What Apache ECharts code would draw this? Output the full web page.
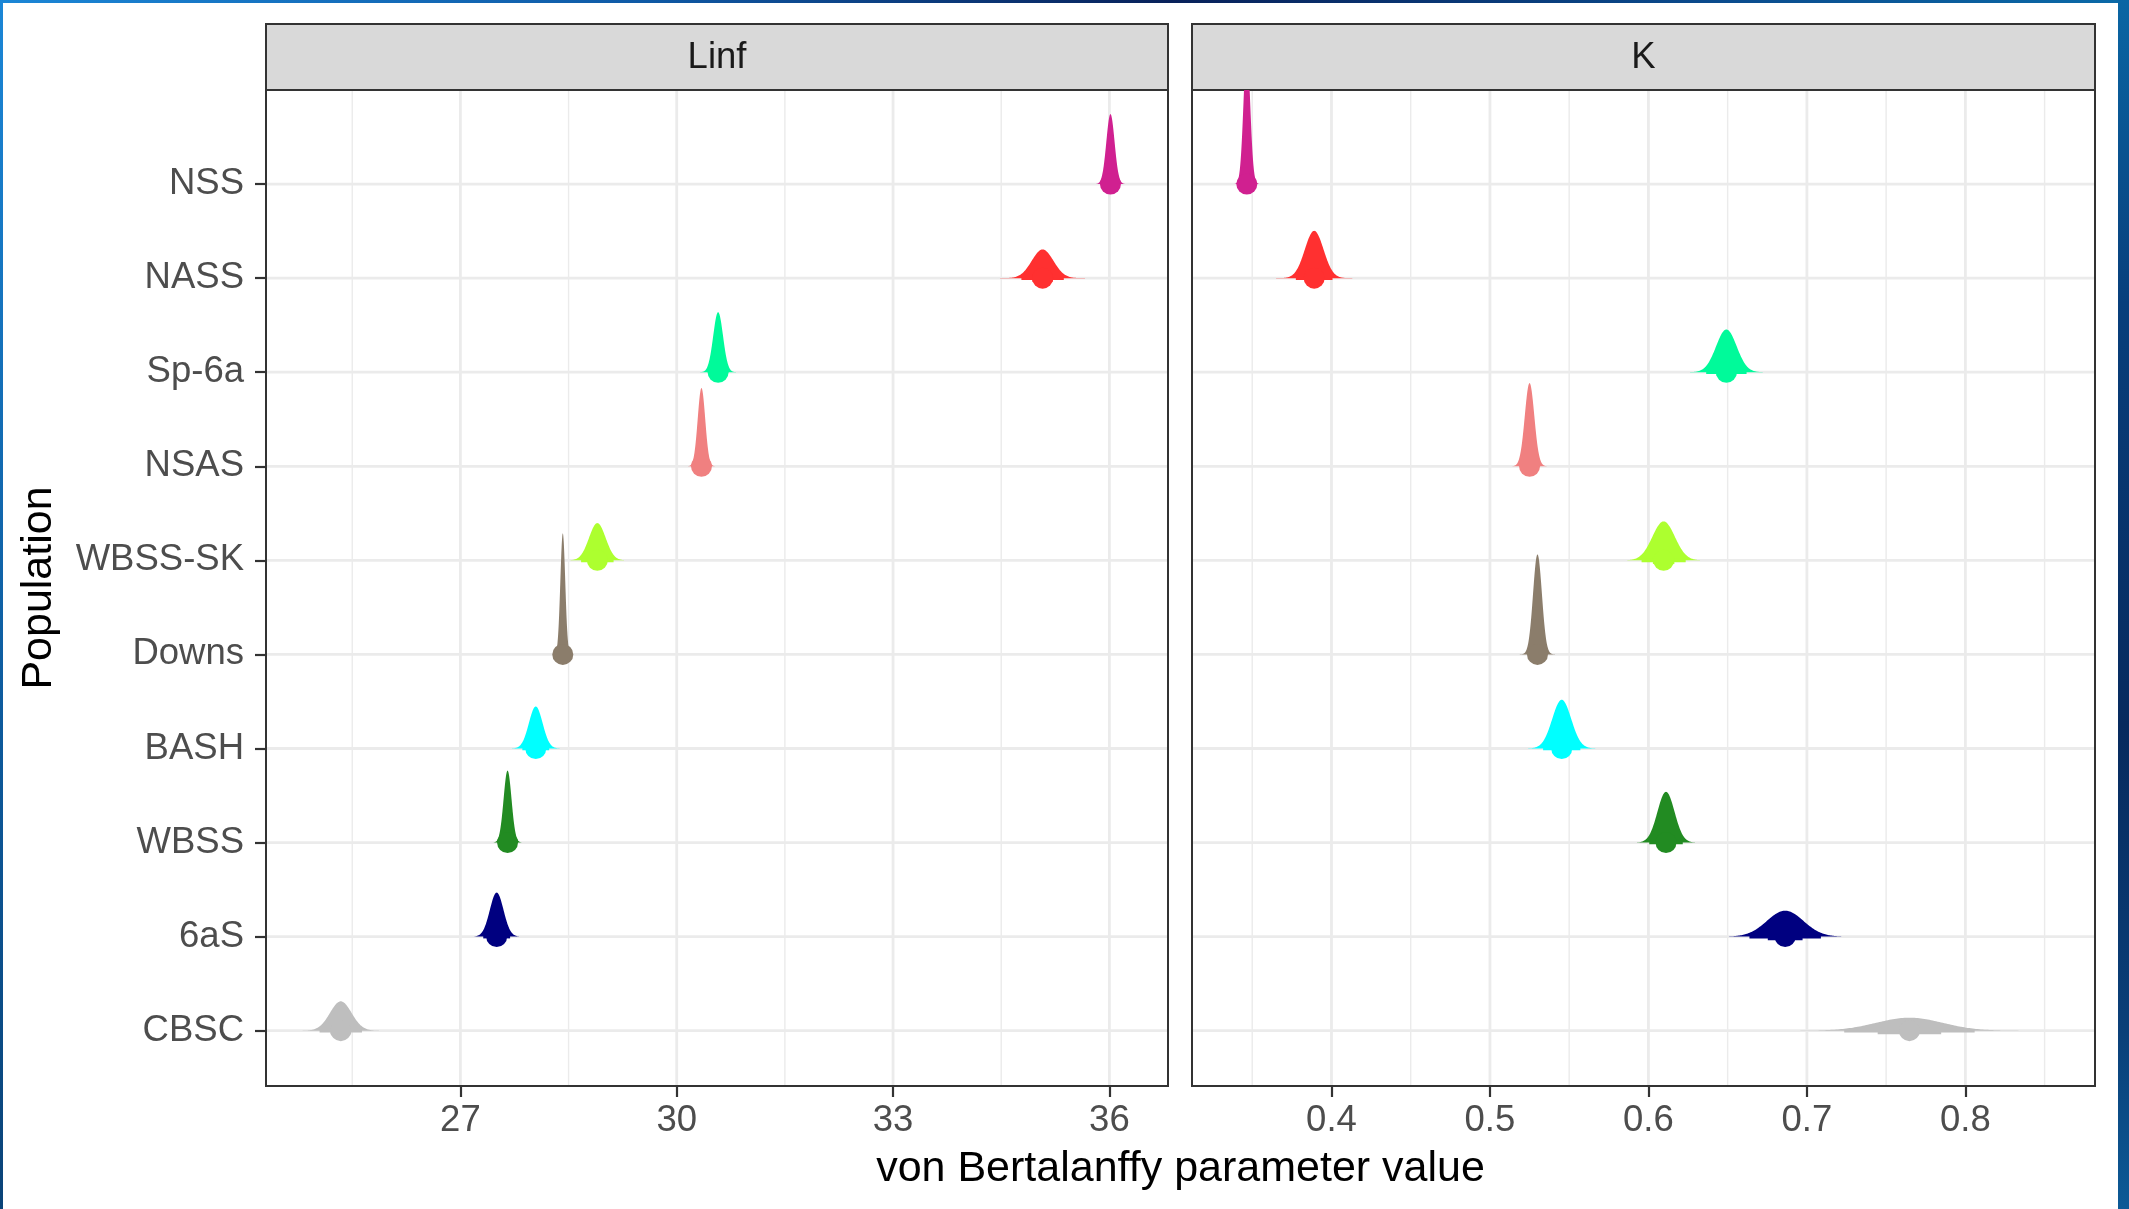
<!DOCTYPE html>
<html>
<head>
<meta charset="utf-8">
<title>von Bertalanffy parameters by population</title>
<script src="https://cdn.jsdelivr.net/npm/echarts@6/dist/echarts.min.js"></script>
<style>
  html, body { margin: 0; padding: 0; width: 2129px; height: 1209px; overflow: hidden; background: #0b3f7a; }
  #edgeTop { position: absolute; left: 0; top: 0; width: 2129px; height: 3px;
    background: linear-gradient(to right, #1b86d6 0%, #0f5aa6 30%, #08215a 55%, #0a4a8c 80%, #0a6aa8 100%); }
  #edgeLeft { position: absolute; left: 0; top: 0; width: 3px; height: 1209px;
    background: linear-gradient(to bottom, #1b86d6 0%, #0d5a9c 60%, #0a4378 100%); }
  #edgeRight { position: absolute; left: 2118px; top: 0; width: 11px; height: 1209px;
    background: linear-gradient(to bottom, #0a66a4 0%, #083f7c 25%, #072a5e 60%, #0a3f78 85%, #0c5a96 100%); }
  #paper { position: absolute; left: 3px; top: 3px; width: 2115px; height: 1206px; background: #ffffff; }
  #chart { position: absolute; left: 0; top: 0; width: 2129px; height: 1209px; }
</style>
</head>
<body>
<div id="edgeTop"></div>
<div id="edgeLeft"></div>
<div id="edgeRight"></div>
<div id="paper"></div>
<div id="chart"></div>
<script>
// Populations, top row first
const populations = ['NSS', 'NASS', 'Sp-6a', 'NSAS', 'WBSS-SK', 'Downs', 'BASH', 'WBSS', '6aS', 'CBSC'];
const popColors = ['#D02090', '#FF3030', '#00FA9A', '#F08080', '#ADFF2F', '#8B7D6B', '#00FFFF', '#228B22', '#000080', '#BEBEBE'];

// Posterior summaries for Linf: median, spread (sd) and slab peak height (in row units)
const linfMedian = [36.015, 35.074, 30.574, 30.343, 28.899, 28.42, 28.045, 27.654, 27.503, 25.341];
const linfSd     = [0.057, 0.15, 0.068, 0.052, 0.115, 0.034, 0.095, 0.055, 0.095, 0.15];
const linfPeak   = [0.744, 0.305, 0.638, 0.832, 0.396, 1.286, 0.446, 0.765, 0.468, 0.312];

// Posterior summaries for K
const kMedian = [0.3466, 0.3891, 0.6492, 0.525, 0.6096, 0.530, 0.5453, 0.6111, 0.6863, 0.7647];
const kSd     = [0.0021, 0.0059, 0.0065, 0.0030, 0.0071, 0.0028, 0.0060, 0.0054, 0.0115, 0.021];
const kPeak   = [1.435, 0.503, 0.454, 0.885, 0.414, 1.063, 0.518, 0.539, 0.276, 0.138];

// Axis breaks
const linfTicks = [27, 30, 33, 36];
const linfMinor = [25.5, 28.5, 31.5, 34.5];
const kTicks = [0.4, 0.5, 0.6, 0.7, 0.8];
const kMinor = [0.35, 0.45, 0.55, 0.65, 0.75, 0.85];
const linfRange = [24.304, 36.813];
const kRange = [0.312, 0.8818];
const rowRange = [0.412, 11.0];

const panelTitles = ['Linf', 'K'];
const xTitle = 'von Bertalanffy parameter value';
const yTitle = 'Population';

// Layout of the two facets
const panelTop = 90, panelHeight = 996, stripTop = 24, stripHeight = 66;
const panels = [{ left: 266, width: 902 }, { left: 1192, width: 903 }];

const FONT = '"Liberation Sans", Arial, Helvetica, sans-serif';
const AXIS_FONT_SIZE = 36.5;
const nRows = populations.length;
const rowPos = i => nRows - i;      // NSS on top, CBSC at the bottom
const rowTicks = populations.map((p, i) => rowPos(i));

function gridData(major, minor) {
  const d = [];
  major.forEach(v => d.push([v, rowRange[0], 0]));
  minor.forEach(v => d.push([v, rowRange[0], 1]));
  rowTicks.forEach(r => d.push([0, r, 2]));
  return d;
}

function renderGrid(params, api) {
  const cs = params.coordSys;
  const kind = api.value(2);
  if (kind === 2) {
    const y = api.coord([api.value(0), api.value(1)])[1];
    return { type: 'line', shape: { x1: cs.x + 1, y1: y, x2: cs.x + cs.width - 1, y2: y },
             style: { stroke: '#EBEBEB', lineWidth: 2.8 } };
  }
  const x = api.coord([api.value(0), api.value(1)])[0];
  return { type: 'line', shape: { x1: x, y1: cs.y + 1, x2: x, y2: cs.y + cs.height - 1 },
           style: { stroke: '#EBEBEB', lineWidth: kind === 0 ? 2.8 : 1.4 } };
}

// Half-eye: density slab above the row, 95% / 66% intervals and the median point
function renderHalfEye(params, api) {
  const m = api.value(0), pos = api.value(1), s = api.value(2), h = api.value(3);
  const color = popColors[api.value(4)];
  const N = 90, span = 4.5;
  const pts = [api.coord([m - span * s, pos])];
  for (let k = -N; k <= N; k++) {
    const z = span * k / N;
    pts.push(api.coord([m + z * s, pos + h * Math.exp(-0.5 * z * z)]));
  }
  pts.push(api.coord([m + span * s, pos]));
  const base = api.coord([m, pos]);
  const lo95 = api.coord([m - 1.96 * s, pos])[0], hi95 = api.coord([m + 1.96 * s, pos])[0];
  const lo66 = api.coord([m - 0.954 * s, pos])[0], hi66 = api.coord([m + 0.954 * s, pos])[0];
  return {
    type: 'group',
    children: [
      { type: 'polygon', shape: { points: pts }, style: { fill: color } },
      { type: 'rect', shape: { x: lo95, y: base[1] - 1.8, width: hi95 - lo95, height: 3.6 }, style: { fill: color } },
      { type: 'rect', shape: { x: lo66, y: base[1] - 3.6, width: hi66 - lo66, height: 7.2 }, style: { fill: color } },
      { type: 'circle', shape: { cx: base[0], cy: base[1], r: 10.5 }, style: { fill: color } }
    ]
  };
}

function slabData(med, sd, peak) {
  return populations.map((p, i) => ({ name: p, value: [med[i], rowPos(i), sd[i], peak[i], i] }));
}

const xAxisBase = {
  type: 'value',
  axisLine: { show: false },
  splitLine: { show: false },
  axisTick: { show: true, length: 11, lineStyle: { color: '#333333', width: 2.2 } },
  axisLabel: { color: '#4D4D4D', fontSize: AXIS_FONT_SIZE, fontFamily: FONT, margin: 16 }
};

const option = {
  backgroundColor: 'transparent',
  animation: false,
  grid: panels.map(p => ({
    left: p.left, top: panelTop, width: p.width, height: panelHeight,
    show: true, backgroundColor: '#ffffff', borderColor: '#333333', borderWidth: 2
  })),
  xAxis: [
    Object.assign({}, xAxisBase, {
      gridIndex: 0, min: linfRange[0], max: linfRange[1],
      axisTick: Object.assign({}, xAxisBase.axisTick, { customValues: linfTicks }),
      axisLabel: Object.assign({}, xAxisBase.axisLabel, { customValues: linfTicks, formatter: v => String(v) })
    }),
    Object.assign({}, xAxisBase, {
      gridIndex: 1, min: kRange[0], max: kRange[1],
      axisTick: Object.assign({}, xAxisBase.axisTick, { customValues: kTicks }),
      axisLabel: Object.assign({}, xAxisBase.axisLabel, { customValues: kTicks, formatter: v => v.toFixed(1) })
    })
  ],
  yAxis: [
    {
      type: 'value', gridIndex: 0, min: rowRange[0], max: rowRange[1],
      axisLine: { show: false }, splitLine: { show: false },
      axisTick: { show: true, length: 11, customValues: rowTicks, lineStyle: { color: '#333333', width: 2.2 } },
      axisLabel: { customValues: rowTicks, color: '#4D4D4D', fontSize: AXIS_FONT_SIZE, fontFamily: FONT, margin: 22,
                   formatter: v => populations[nRows - Math.round(v)] }
    },
    {
      type: 'value', gridIndex: 1, min: rowRange[0], max: rowRange[1],
      axisLine: { show: false }, splitLine: { show: false },
      axisTick: { show: false }, axisLabel: { show: false }
    }
  ],
  series: [
    { type: 'custom', xAxisIndex: 0, yAxisIndex: 0, z: 1, silent: true,
      encode: { x: 0, y: 1 }, data: gridData(linfTicks, linfMinor), renderItem: renderGrid },
    { type: 'custom', xAxisIndex: 1, yAxisIndex: 1, z: 1, silent: true,
      encode: { x: 0, y: 1 }, data: gridData(kTicks, kMinor), renderItem: renderGrid },
    { type: 'custom', name: 'Linf', xAxisIndex: 0, yAxisIndex: 0, z: 3, clip: true,
      encode: { x: 0, y: 1 }, data: slabData(linfMedian, linfSd, linfPeak), renderItem: renderHalfEye },
    { type: 'custom', name: 'K', xAxisIndex: 1, yAxisIndex: 1, z: 3, clip: true,
      encode: { x: 0, y: 1 }, data: slabData(kMedian, kSd, kPeak), renderItem: renderHalfEye }
  ],
  graphic: [
    ...panels.map((p, i) => ({
      type: 'group', z: 10,
      children: [
        { type: 'rect', shape: { x: p.left, y: stripTop, width: p.width, height: stripHeight },
          style: { fill: '#D9D9D9', stroke: '#333333', lineWidth: 2 } },
        { type: 'text', x: p.left + p.width / 2, y: stripTop + stripHeight / 2 + 1,
          style: { text: panelTitles[i], fill: '#1A1A1A', font: AXIS_FONT_SIZE + 'px ' + FONT, align: 'center', verticalAlign: 'middle' } }
      ]
    })),
    { type: 'text', z: 10, x: (panels[0].left + panels[1].left + panels[1].width) / 2, y: 1169,
      style: { text: xTitle, fill: '#000000', font: '43px ' + FONT, align: 'center', verticalAlign: 'middle' } },
    { type: 'text', z: 10, x: 39, y: panelTop + panelHeight / 2, rotation: Math.PI / 2,
      style: { text: yTitle, fill: '#000000', font: '43px ' + FONT, align: 'center', verticalAlign: 'middle' } }
  ]
};

const chart = echarts.init(document.getElementById('chart'), null, { renderer: 'canvas' });
chart.setOption(option);
</script>
</body>
</html>
